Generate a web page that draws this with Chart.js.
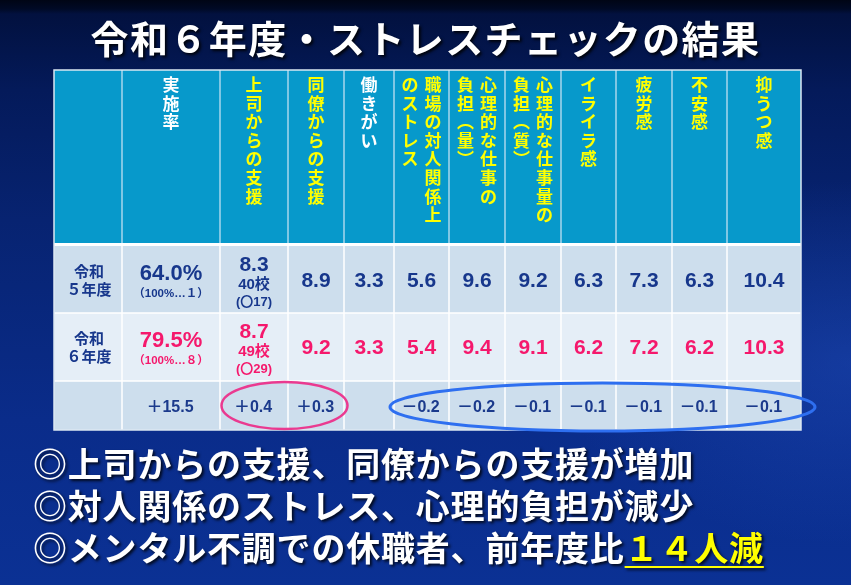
<!DOCTYPE html>
<html lang="ja">
<head>
<meta charset="utf-8">
<script src="https://cdn.jsdelivr.net/npm/chart.js@4/dist/chart.umd.min.js"></script>
<style>
  html, body { margin: 0; padding: 0; }
  body {
    width: 851px; height: 585px; overflow: hidden; position: relative;
    background:
      radial-gradient(ellipse 420px 260px at 100% 62%, rgba(40, 90, 210, 0.35), rgba(40, 90, 210, 0) 70%),
      linear-gradient(180deg, #000515 0px, #000a26 9px, #02113f 14px, #041a5a 90px, #072371 220px, #0a2c8a 420px, #0b3194 585px);
    font-family: "Noto Sans CJK JP", "Noto Sans", sans-serif;
  }
  #chart { position: absolute; left: 0; top: 0; }
  .title {
    position: absolute; left: 0; width: 851px; top: 14px; text-align: center;
    color: #fff; font-weight: 700; font-size: 38px; line-height: 46px; letter-spacing: 1.4px;
    text-shadow: 2px 2px 3px rgba(0, 0, 0, 0.85);
  }
  .notes {
    position: absolute; left: 33px; top: 442px;
    color: #fff; font-weight: 700; font-size: 34px; line-height: 42px; letter-spacing: 0.8px;
    text-shadow: 2px 2px 3px rgba(0, 0, 0, 0.8);
    white-space: nowrap;
  }
  .notes .hl {
    color: #ffff00; text-decoration: underline; text-decoration-color: #ffff00;
    text-decoration-thickness: 2px; text-underline-offset: 5px;
  }
</style>
</head>
<body>
<canvas id="chart" width="851" height="585"></canvas>
<div class="title" id="title"></div>
<div class="notes" id="notes"></div>
<script>
// ---- data ----
const slideTitle = '令和６年度・ストレスチェックの結果';
const headerLabels = [
  ['実施率'],
  ['上司からの支援'],
  ['同僚からの支援'],
  ['働きがい'],
  ['職場の対人関係上', 'のストレス'],
  ['心理的な仕事の', '負担(量)'],
  ['心理的な仕事量の', '負担(質)'],
  ['イライラ感'],
  ['疲労感'],
  ['不安感'],
  ['抑うつ感']
];
const yearLabels = [['令和', '５年度'], ['令和', '６年度']];
const rateValues = [64.0, 79.5];
const rateNotes = ['（100%…１）', '（100%…８）'];
const bossSchools = ['40校', '49校'];
const bossCircles = ['(〇17)', '(〇29)'];
// 上司からの支援 … 抑うつ感
const r5Scores = [8.3, 8.9, 3.3, 5.6, 9.6, 9.2, 6.3, 7.3, 6.3, 10.4];
const r6Scores = [8.7, 9.2, 3.3, 5.4, 9.4, 9.1, 6.2, 7.2, 6.2, 10.3];
// 実施率 … 抑うつ感 (null = blank)
const diffValues = [15.5, 0.4, 0.3, null, -0.2, -0.2, -0.1, -0.1, -0.1, -0.1, -0.1];
const noteLines = [
  '◎上司からの支援、同僚からの支援が増加',
  '◎対人関係のストレス、心理的負担が減少',
  '◎メンタル不調での休職者、前年度比'
];
const noteHighlight = '１４人減';

// ---- layout / style ----
const colWidths = [68, 98, 68, 56, 50, 55, 56, 56, 55, 56, 55, 74];
const rowHeights = [173, 70, 68, 49];
const colEdges = colWidths.reduce((a, w) => (a.push(a[a.length - 1] + w), a), [0]);
const rowEdges = rowHeights.reduce((a, h) => (a.push(a[a.length - 1] + h), a), [0]);
const whiteHeaders = ['実施率', '働きがい'];
const NAVY = '#17378c';
const PINK = '#f5186c';
const NUM_FONT = '"Liberation Sans", "Noto Sans CJK JP", sans-serif';
const JP_FONT = '"Noto Sans CJK JP", sans-serif';

document.getElementById('title').textContent = slideTitle;
const notesEl = document.getElementById('notes');
noteLines.forEach((line, i) => {
  const div = document.createElement('div');
  div.textContent = line;
  if (i === noteLines.length - 1) {
    const span = document.createElement('span');
    span.className = 'hl';
    span.textContent = noteHighlight;
    div.appendChild(span);
  }
  notesEl.appendChild(div);
});

function cellBox(chart, c0, c1, r0, r1) {
  const { x, y } = chart.scales;
  return {
    l: x.getPixelForValue(colEdges[c0]),
    r: x.getPixelForValue(colEdges[c1]),
    t: y.getPixelForValue(rowEdges[r0]),
    b: y.getPixelForValue(rowEdges[r1])
  };
}

function fmt(v) { return v.toFixed(1); }
function fmtDiff(v) { return (v > 0 ? '＋' : '－') + Math.abs(v).toFixed(1); }

function drawVertical(ctx, text, cx, top, step) {
  const chars = Array.from(text.replace('(', '︵').replace(')', '︶'));
  chars.forEach((ch, i) => ctx.fillText(ch, cx, top + i * step));
}

const tablePlugin = {
  id: 'stressTable',
  afterDraw(chart) {
    const ctx = chart.ctx;
    const nCols = colWidths.length;
    ctx.save();

    // header background
    const head = cellBox(chart, 0, nCols, 0, 1);
    ctx.fillStyle = '#0799cb';
    ctx.fillRect(head.l, head.t, head.r - head.l, head.b - head.t);

    // body rows
    const rowFills = ['#cddeed', '#e5eef7', '#cddeed'];
    rowFills.forEach((fill, i) => {
      const b = cellBox(chart, 0, nCols, i + 1, i + 2);
      ctx.fillStyle = fill;
      ctx.fillRect(b.l, b.t, b.r - b.l, b.b - b.t);
    });
    // white band under header
    ctx.fillStyle = '#ffffff';
    ctx.fillRect(head.l, head.b, head.r - head.l, 3);

    // vertical rules
    for (let c = 1; c < nCols; c++) {
      const hb = cellBox(chart, c, c + 1, 0, 1);
      ctx.strokeStyle = '#a9d7ec';
      ctx.lineWidth = 1.5;
      ctx.beginPath(); ctx.moveTo(hb.l, hb.t); ctx.lineTo(hb.l, hb.b); ctx.stroke();
      const bb = cellBox(chart, c, c + 1, 1, rowHeights.length);
      ctx.strokeStyle = '#ffffff';
      ctx.beginPath(); ctx.moveTo(bb.l, bb.t); ctx.lineTo(bb.l, bb.b); ctx.stroke();
    }
    // horizontal rules
    for (let r = 2; r < rowHeights.length; r++) {
      const b = cellBox(chart, 0, nCols, r, r + 1);
      ctx.strokeStyle = '#ffffff';
      ctx.lineWidth = 1.5;
      ctx.beginPath(); ctx.moveTo(b.l, b.t); ctx.lineTo(b.r, b.t); ctx.stroke();
    }
    // outer border
    const all = cellBox(chart, 0, nCols, 0, rowHeights.length);
    ctx.strokeStyle = '#dbe7f2';
    ctx.lineWidth = 1.5;
    ctx.strokeRect(all.l, all.t, all.r - all.l, all.b - all.t);

    // header text (vertical, lines run right to left)
    ctx.font = 'bold 17px ' + JP_FONT;
    ctx.textAlign = 'center';
    ctx.textBaseline = 'top';
    headerLabels.forEach((lines, i) => {
      const b = cellBox(chart, i + 1, i + 2, 0, 1);
      const cx = (b.l + b.r) / 2;
      ctx.fillStyle = whiteHeaders.includes(lines.join('')) ? '#ffffff' : '#ffff00';
      const gap = 23;
      lines.forEach((line, k) => {
        const x = cx + ((lines.length - 1) / 2 - k) * gap;
        drawVertical(ctx, line, x, b.t + 6, 18.6);
      });
    });

    ctx.textBaseline = 'middle';
    // year labels
    yearLabels.forEach((lines, i) => {
      const b = cellBox(chart, 0, 1, i + 1, i + 2);
      const cx = (b.l + b.r) / 2 + 1;
      const cy = (b.t + b.b) / 2 + (i === 0 ? 2 : 0);
      ctx.fillStyle = NAVY;
      ctx.font = 'bold 15px ' + JP_FONT;
      ctx.fillText(lines[0], cx, cy - 9);
      ctx.fillText(lines[1], cx, cy + 9);
    });

    // rate column
    rateValues.forEach((v, i) => {
      const b = cellBox(chart, 1, 2, i + 1, i + 2);
      const cx = (b.l + b.r) / 2;
      const cy = (b.t + b.b) / 2 + (i === 0 ? 2 : 0);
      ctx.fillStyle = i === 0 ? NAVY : PINK;
      ctx.font = 'bold 22px ' + NUM_FONT;
      ctx.fillText(fmt(v) + '%', cx, cy - 6);
      ctx.font = 'bold 11.5px ' + NUM_FONT;
      ctx.fillText(rateNotes[i], cx, cy + 14);
    });

    // score columns
    [r5Scores, r6Scores].forEach((scores, i) => {
      const color = i === 0 ? NAVY : PINK;
      scores.forEach((v, j) => {
        const b = cellBox(chart, j + 2, j + 3, i + 1, i + 2);
        const cx = (b.l + b.r) / 2;
        const cy = (b.t + b.b) / 2 + (i === 0 ? 2 : 0);
        ctx.fillStyle = color;
        if (j === 0) {
          ctx.font = 'bold 21px ' + NUM_FONT;
          ctx.fillText(fmt(v), cx, cy - 15);
          ctx.font = 'bold 15px ' + NUM_FONT;
          ctx.fillText(bossSchools[i], cx, cy + 5);
          ctx.font = 'bold 13px ' + NUM_FONT;
          ctx.fillText(bossCircles[i], cx, cy + 22);
        } else {
          ctx.font = 'bold 21px ' + NUM_FONT;
          ctx.fillText(fmt(v), cx, cy + 1);
        }
      });
    });

    // difference row
    ctx.font = 'bold 16px ' + NUM_FONT;
    ctx.fillStyle = '#1b3a8c';
    diffValues.forEach((v, j) => {
      if (v === null) return;
      const b = cellBox(chart, j + 1, j + 2, 3, 4);
      ctx.fillText(fmtDiff(v), (b.l + b.r) / 2 - 1, (b.t + b.b) / 2 + 2);
    });

    // highlight ellipses
    const up = cellBox(chart, 2, 4, 3, 4);
    ctx.strokeStyle = '#ea3a90';
    ctx.lineWidth = 2.5;
    ctx.beginPath();
    ctx.ellipse((up.l + up.r) / 2 + 2.5, (up.t + up.b) / 2, (up.r - up.l) / 2 + 1, (up.b - up.t) / 2 - 1, 0, 0, Math.PI * 2);
    ctx.stroke();

    const down = cellBox(chart, 5, nCols, 3, 4);
    ctx.strokeStyle = '#2e6ff0';
    ctx.lineWidth = 3;
    ctx.beginPath();
    ctx.ellipse((down.l + down.r) / 2 + 5, (down.t + down.b) / 2 + 1.5, (down.r - down.l) / 2 + 9, (down.b - down.t) / 2 - 0.5, 0, 0, Math.PI * 2);
    ctx.stroke();

    ctx.restore();
  }
};

new Chart(document.getElementById('chart'), {
  type: 'scatter',
  data: { datasets: [{ data: [] }] },
  options: {
    responsive: false,
    animation: false,
    layout: { padding: { left: 54, top: 70, right: 50, bottom: 155 } },
    plugins: { legend: { display: false }, tooltip: { enabled: false } },
    scales: {
      x: { type: 'linear', display: false, min: 0, max: colEdges[colEdges.length - 1] },
      y: { type: 'linear', display: false, reverse: true, min: 0, max: rowEdges[rowEdges.length - 1] }
    }
  },
  plugins: [tablePlugin]
});
</script>
</body>
</html>
